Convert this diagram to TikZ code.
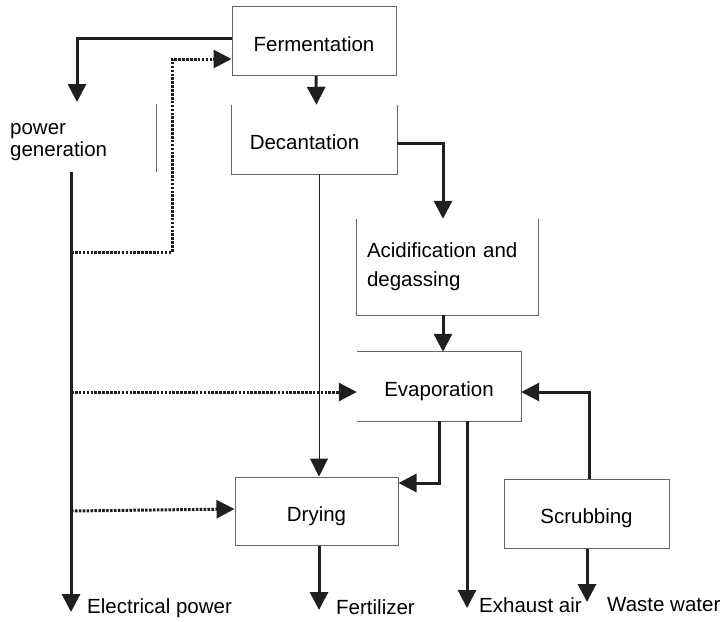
\documentclass[tikz,border=0pt]{standalone}
\usepackage{fontspec}
\setmainfont{Liberation Sans}
\usetikzlibrary{arrows.meta,positioning}

\begin{document}
\begin{tikzpicture}[x=1pt,y=-1pt,
  every node/.style={inner sep=0pt,font=\fontsize{20.5}{22}\selectfont},
  box/.style={rectangle,minimum width=164pt,minimum height=69pt,text height=20pt,text depth=0pt},
  edge/.style={draw=black!60,line width=1pt},
  flow/.style={draw=black!88,line width=3pt,-{Triangle[width=18pt,length=18pt]}},
  thin/.style={draw=black!88,line width=1pt,-{Triangle[width=18pt,length=18pt]}},
  power/.style={draw=black!88,line width=3pt,dash pattern=on 2.6pt off 1.3pt,
                -{Triangle[width=18pt,length=18pt]}}]
\useasboundingbox (0,0) rectangle (725,621);

% process units
\node [box,edge] (ferm) at (314,41) {Fermentation};
\node [box,minimum width=165pt] (dec) at (314.5,139.5) {\hspace*{-20pt}Decantation};
\node [rectangle,minimum width=181pt,minimum height=96pt,text width=161pt,align=left,
       font=\fontsize{20.5}{23}\selectfont] (acid) at (447.5,267) {\vspace*{6pt}Acidification and\\degassing};
\node [box] (evap) at (439,386.5) {Evaporation};
\node [box,edge,minimum width=163pt,minimum height=68pt] (dry) at (316.5,511) {Drying};
\node [box,edge,minimum width=165pt] (scrub) at (586.5,513.5) {Scrubbing};

% open boxes
\draw [edge] (dec.north west) |- (dec.south east) -- (dec.north east);
\draw [edge] (acid.north west) |- (acid.south east) -- (acid.north east);
\draw [edge] (evap.north west) -| (evap.south east) -- (evap.south west);
\draw [edge] (156,104) -- (156,172);

% power plant and outputs
\node [anchor=west,align=left] (pgen) at (10,142) {power\\generation};
\node [anchor=west] (elec) at (87,608) {Electrical power};
\node [anchor=west] (fert) at (336,607) {Fertilizer};
\node [anchor=west] (exh) at (479,605) {Exhaust air};
\node [anchor=west] (waste) at (607,605) {Waste water};

\coordinate (pin) at (77,102);
\coordinate (bus) at (71,172);
\coordinate (busend) at (71,612);
\coordinate (tap) at (71,252);

% main flows
\draw [flow] ([yshift=3pt]ferm.west) -| (pin);
\draw [flow] ([xshift=2pt]ferm.south) -- ([xshift=2pt]dec.north);
\draw [flow] ([yshift=-3.5pt]dec.east) -| ([xshift=-4.5pt]acid.north);
\draw [thin] ([xshift=4.5pt]dec.south) -- ([xshift=4.5pt]dec.south |- dry.north);
\draw [flow] ([xshift=-4.5pt]acid.south) -- ([xshift=-4.5pt]acid.south |- evap.north);
\draw [flow] (evap.south) |- ([yshift=28pt]dry.east);
\draw [flow] ([xshift=28pt]evap.south) -- ([xshift=28pt]evap.south |- 0,608);
\draw [flow] ([xshift=2.5pt]scrub.north) |- ([yshift=-5.5pt]evap.east);
\draw [flow] ([xshift=0.5pt]scrub.south) -- ([xshift=0.5pt]scrub.south |- 0,602);
\draw [flow] ([xshift=2.5pt]dry.south) -- ([xshift=2.5pt]dry.south |- 0,610);
\draw [flow] (bus) -- (busend);

% power distribution
\draw [power] (tap) -| (172,59) -- ([yshift=-18pt]ferm.west);
\draw [power] (bus |- 0,392) -- ([yshift=-5.5pt]evap.west);
\draw [power] (bus |- dry.west) -- ([yshift=2pt]dry.west);
\end{tikzpicture}
\end{document}
